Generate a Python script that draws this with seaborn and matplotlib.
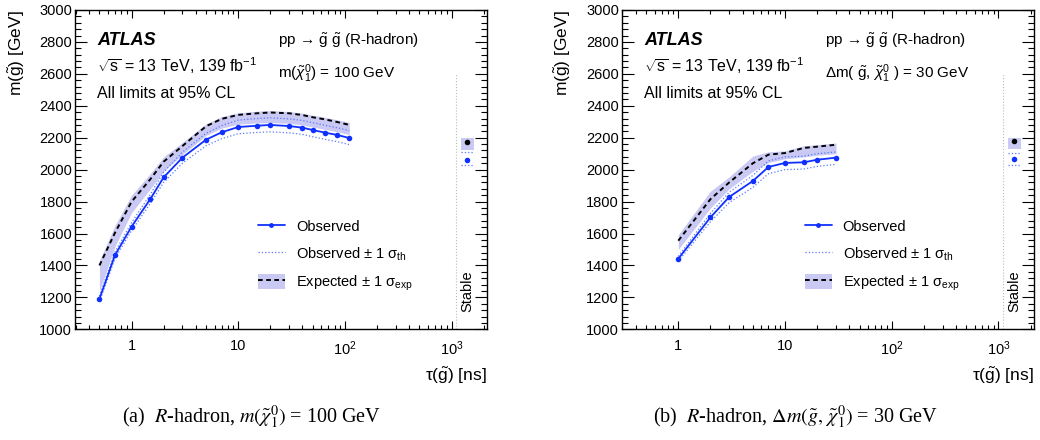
import matplotlib
matplotlib.use("Agg")
import numpy as np
import pandas as pd
import seaborn as sns
import matplotlib.pyplot as plt
from matplotlib.lines import Line2D
from matplotlib.patches import Patch
from matplotlib.ticker import FixedLocator, LogLocator, MultipleLocator, FixedFormatter, NullFormatter

# ---------------- data ----------------
# (a) R-hadron, m(chi10) = 100 GeV
tau_a = [0.5, 0.7, 1, 1.5, 2, 3, 5, 7, 10, 15, 20, 30, 40, 50, 65, 85, 110]
obs_a = [1190, 1465, 1643, 1816, 1952, 2075, 2188, 2234, 2267, 2275, 2280, 2273, 2263, 2248, 2232, 2217, 2198]
obs_hi_a = [1208, 1485, 1668, 1845, 1984, 2110, 2228, 2276, 2310, 2320, 2325, 2318, 2308, 2294, 2278, 2262, 2245]
obs_lo_a = [1172, 1445, 1618, 1788, 1920, 2040, 2150, 2194, 2225, 2233, 2237, 2230, 2221, 2206, 2190, 2175, 2157]
exp_a = [1400, 1605, 1799, 1940, 2050, 2148, 2272, 2318, 2343, 2353, 2358, 2353, 2342, 2328, 2315, 2298, 2280]
exp_hi_a = [1430, 1650, 1840, 1975, 2080, 2170, 2287, 2332, 2356, 2366, 2370, 2364, 2354, 2341, 2328, 2312, 2296]
exp_lo_a = [1240, 1520, 1730, 1880, 1990, 2095, 2215, 2260, 2285, 2292, 2295, 2290, 2280, 2267, 2252, 2237, 2220]

# (b) R-hadron, dm(gluino, chi10) = 30 GeV
tau_b = [1, 2, 3, 5, 7, 10, 15, 20, 30]
obs_b = [1442, 1701, 1829, 1929, 2017, 2042, 2046, 2062, 2075]
obs_hi_b = [1457, 1726, 1859, 1964, 2055, 2080, 2084, 2100, 2111]
obs_lo_b = [1427, 1673, 1794, 1889, 1975, 2000, 2004, 2020, 2033]
exp_b = [1555, 1815, 1920, 2040, 2094, 2104, 2136, 2144, 2156]
exp_hi_b = [1592, 1865, 1955, 2085, 2112, 2118, 2150, 2156, 2167]
exp_lo_b = [1500, 1760, 1880, 1990, 2045, 2068, 2080, 2090, 2100]

# stable points (tau -> infinity), drawn at the "Stable" position
stable_tau = 1400
stable_obs = [2060, 2068]
stable_obs_hi = [2109, 2102]
stable_obs_lo = [2029, 2029]
stable_exp = [2172, 2181]
stable_exp_hi = [2196, 2200]
stable_exp_lo = [2123, 2131]

x_ticks = [1, 10, 100, 1000]
x_tick_labels = ["1", "10", r"$10^{2}$", r"$10^{3}$"]

legend_labels = ["Observed", r"Observed ± 1 σ$_{\mathrm{th}}$",
                 r"Expected ± 1 σ$_{\mathrm{exp}}$"]
process_text = r"pp → $\tilde{\mathrm{g}}\ \tilde{\mathrm{g}}$ (R-hadron)"
model_texts = [r"m($\tilde{\chi}^{0}_{1}$) = 100 GeV",
               r"Δm( $\tilde{\mathrm{g}}$, $\tilde{\chi}^{0}_{1}$ ) = 30 GeV"]
captions = [r"(a)  $R$-hadron, $m(\tilde{\chi}^0_1)$ = 100 GeV",
            r"(b)  $R$-hadron, $\Delta m(\tilde{g},\,\tilde{\chi}^0_1)$ = 30 GeV"]

# ---------------- style ----------------
sns.set_theme(style="ticks")
plt.rcParams.update({
    "font.family": ["Liberation Sans", "DejaVu Sans"],
    "mathtext.fontset": "custom",
    "mathtext.rm": "Liberation Sans",
    "mathtext.it": "Liberation Sans:italic",
    "mathtext.bf": "Liberation Sans:bold",
    "mathtext.sf": "Liberation Sans",
    "text.color": "black",
    "axes.labelcolor": "black",
    "xtick.color": "black",
    "ytick.color": "black",
    "axes.edgecolor": "black",
    "axes.linewidth": 1.0,
})

BLUE = "#1030ff"
TH = "#5a78ff"
BAND = "#c9c9f3"
DASH = (0, (2.4, 1.8))

fig = plt.figure(figsize=(10.4, 4.4), dpi=100)
ax_a = fig.add_axes([0.0721, 0.2516, 0.3962, 0.7257])
ax_b = fig.add_axes([0.5978, 0.2516, 0.3964, 0.7257])


def draw_panel(ax, tau, obs, obs_hi, obs_lo, exp, exp_hi, exp_lo, i, model_text):
    ax.set_xscale("log")
    df = pd.DataFrame({"tau": tau, "obs": obs, "obs_hi": obs_hi, "obs_lo": obs_lo,
                       "exp": exp, "exp_hi": exp_hi, "exp_lo": exp_lo})
    ax.fill_between(df["tau"], df["exp_lo"], df["exp_hi"], color=BAND, lw=0, zorder=1)
    sns.lineplot(data=df, x="tau", y="obs_hi", ax=ax, color=TH, lw=0.9, linestyle=":", zorder=2)
    sns.lineplot(data=df, x="tau", y="obs_lo", ax=ax, color=TH, lw=0.9, linestyle=":", zorder=2)
    sns.lineplot(data=df, x="tau", y="exp", ax=ax, color="black", lw=1.4, linestyle=DASH, zorder=3)
    sns.lineplot(data=df, x="tau", y="obs", ax=ax, color=BLUE, lw=1.3, marker="o",
                 markersize=4, markeredgewidth=0, zorder=4)

    # stable point
    s_lo, s_hi = stable_tau / 1.15, stable_tau * 1.15
    ax.fill_between([s_lo, s_hi], [stable_exp_lo[i]] * 2, [stable_exp_hi[i]] * 2,
                    color=BAND, lw=0, zorder=1)
    ax.plot([s_lo, s_hi], [stable_obs_hi[i]] * 2, color=TH, lw=0.9, ls=":", zorder=2)
    ax.plot([s_lo, s_hi], [stable_obs_lo[i]] * 2, color=TH, lw=0.9, ls=":", zorder=2)
    ax.plot([stable_tau], [stable_exp[i]], "o", color="black", ms=4, mew=0, zorder=4)
    ax.plot([stable_tau], [stable_obs[i]], "o", color=BLUE, ms=4, mew=0, zorder=4)
    ax.plot([1100, 1100], [1000, 2600], color="#bbbbbb", lw=0.8, ls=":", zorder=1)
    ax.text(stable_tau, 1240, "Stable", rotation=90, ha="center", va="center", fontsize=10.5)

    ax.set_xlim(0.295, 2150)
    ax.set_ylim(1000, 3000)
    ax.xaxis.set_major_locator(FixedLocator(x_ticks))
    ax.xaxis.set_major_formatter(FixedFormatter(x_tick_labels))
    ax.xaxis.set_minor_locator(LogLocator(base=10, subs=np.arange(2, 10)))
    ax.xaxis.set_minor_formatter(NullFormatter())
    ax.yaxis.set_major_locator(MultipleLocator(200))
    ax.yaxis.set_minor_locator(MultipleLocator(40))
    ax.tick_params(which="both", direction="in", top=True, right=True, width=0.8, labelsize=10.5)
    ax.tick_params(axis="y", which="major", length=8.5, pad=2)
    ax.tick_params(axis="y", which="minor", length=4.3)
    ax.tick_params(axis="x", which="major", length=6, pad=7)
    ax.tick_params(axis="x", which="minor", length=3.2)

    ax.set_xlabel(r"τ($\tilde{\mathrm{g}}$) [ns]", fontsize=12.5, loc="right")
    ax.xaxis.set_label_coords(1.0, -0.113)
    ax.set_ylabel(r"m($\tilde{\mathrm{g}}$) [GeV]", fontsize=12.5, loc="top")
    ax.yaxis.set_label_coords(-0.117, 1.0)

    ax.text(0.054, 0.906, "ATLAS", transform=ax.transAxes, fontsize=13,
            fontweight="bold", fontstyle="italic", va="center")
    ax.text(0.054, 0.826, r"$\sqrt{\mathrm{s}}$ = 13 TeV, 139 fb$^{-1}$",
            transform=ax.transAxes, fontsize=11.5, va="center")
    ax.text(0.054, 0.738, "All limits at 95% CL", transform=ax.transAxes,
            fontsize=11.5, va="center")
    ax.text(0.493, 0.904, process_text, transform=ax.transAxes, fontsize=11, va="center")
    ax.text(0.493, 0.802, model_text, transform=ax.transAxes, fontsize=11, va="center")

    h_obs = Line2D([], [], color=BLUE, lw=1.3, marker="o", ms=3.5, mew=0)
    h_th = Line2D([], [], color=TH, lw=0.9, ls=":")
    h_exp = (Patch(facecolor=BAND, edgecolor="none"),
             Line2D([], [], color="black", lw=1.4, ls=DASH))
    ax.legend([h_obs, h_th, h_exp], legend_labels, loc="upper left",
              bbox_to_anchor=(0.444, 0.346), frameon=False, borderpad=0,
              borderaxespad=0, handlelength=1.85, handleheight=1.25,
              labelspacing=0.74, handletextpad=0.75, fontsize=10.5)


draw_panel(ax_a, tau_a, obs_a, obs_hi_a, obs_lo_a, exp_a, exp_hi_a, exp_lo_a, 0, model_texts[0])
draw_panel(ax_b, tau_b, obs_b, obs_hi_b, obs_lo_b, exp_b, exp_hi_b, exp_lo_b, 1, model_texts[1])

for x, cap in zip([0.242, 0.765], captions):
    fig.text(x, 0.052, cap, ha="center", va="center", fontsize=14.5,
             family="Liberation Serif", math_fontfamily="stix")

fig.savefig("out.png", dpi=100)
